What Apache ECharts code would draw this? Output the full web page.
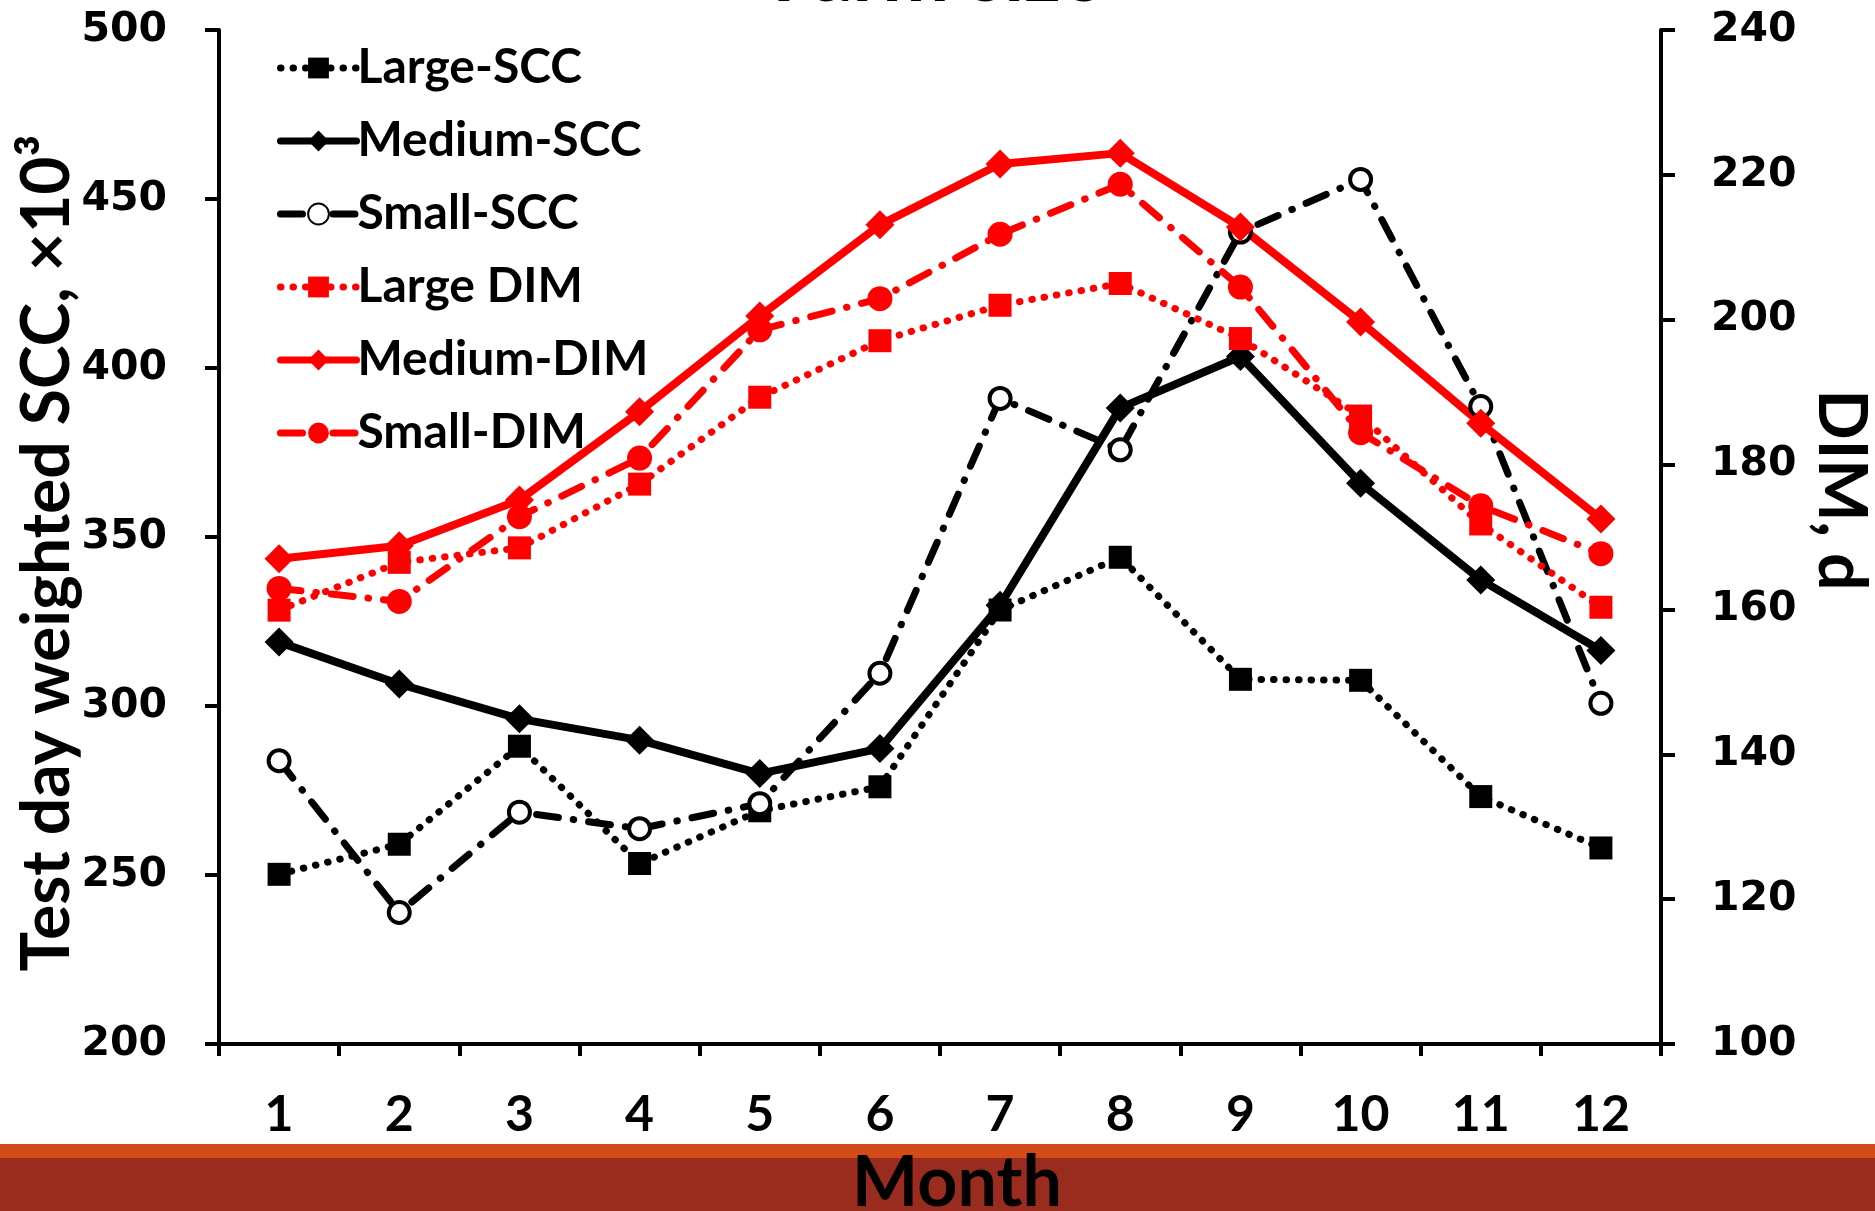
<!DOCTYPE html>
<html>
<head>
<meta charset="utf-8">
<script src="https://cdn.jsdelivr.net/npm/echarts@6/dist/echarts.min.js"></script>
<style>
  html, body { margin: 0; padding: 0; background: #fff; }
  #main { width: 1875px; height: 1211px; }
</style>
</head>
<body>
<div id="main"></div>
<script>
const months = ["1", "2", "3", "4", "5", "6", "7", "8", "9", "10", "11", "12"];
// SCC, x10^3 (left axis)
const largeScc = [250.2, 259.1, 288.1, 253.4, 269.0, 276.1, 328.4, 344.0, 307.9, 307.6, 273.2, 258.0];
const mediumScc = [318.9, 306.5, 296.2, 289.9, 280.0, 287.4, 329.8, 388.2, 403.4, 365.9, 337.3, 316.4];
const smallScc = [283.8, 238.9, 268.6, 263.7, 271.1, 309.7, 391.0, 375.8, 440.2, 455.8, 388.6, 300.8];
// DIM, d (right axis)
const largeDim = [159.9, 166.5, 168.5, 177.3, 189.3, 197.1, 202.0, 205.0, 197.4, 186.7, 171.8, 160.3];
const mediumDim = [167.0, 168.8, 175.1, 187.3, 200.5, 213.1, 221.5, 223.0, 212.8, 199.7, 185.7, 172.5];
const smallDim = [162.9, 161.1, 172.8, 180.9, 198.6, 202.9, 211.8, 218.7, 204.5, 184.4, 174.3, 167.7];

const RED = "#ff0000";
const BLACK = "#000000";
const dotted = [0.5, 12];
const dashDot = [22, 15, 0.5, 15];

function line(name, data, axis, color, type, width, symbol, size, fill) {
  return {
    name: name,
    type: "line",
    yAxisIndex: axis,
    data: data,
    symbol: symbol,
    symbolSize: size,
    showAllSymbol: true,
    lineStyle: { color: color, width: width, type: type, cap: "round" },
    itemStyle: fill
      ? { color: color, borderColor: color, borderWidth: 0 }
      : { color: "#fff", borderColor: color, borderWidth: 4 },
    emphasis: { disabled: true }
  };
}

const axisText = { fontFamily: "DejaVu Sans", fontWeight: "bold", fontSize: 41, color: BLACK };
const axisLine = { show: true, lineStyle: { color: BLACK, width: 4 } };
const axisTick = { show: true, length: 14, lineStyle: { color: BLACK, width: 4 } };
const nameFont = "bold 66px Lato";

const option = {
  animation: false,
  backgroundColor: "#fff",
  textStyle: { fontFamily: "Lato" },
  graphic: [
    { type: "text", left: "center", top: -65,
      style: { text: "Farm size", font: "bold 80px Lato", fill: BLACK } },
    { type: "text", x: 48, y: 553, rotation: Math.PI / 2,
      style: { text: "Test day weighted SCC, ×10³", font: nameFont, fill: BLACK, align: "center", verticalAlign: "middle" } },
    { type: "text", x: 1840, y: 490, rotation: -Math.PI / 2,
      style: { text: "DIM, d", font: nameFont, fill: BLACK, align: "center", verticalAlign: "middle" } },
    { type: "rect", shape: { x: 0, y: 1144, width: 1875, height: 14 },
      style: { fill: "#D34B19" }, silent: true },
    { type: "rect", shape: { x: 0, y: 1158, width: 1875, height: 53 },
      style: { fill: "#9A2C1F" }, silent: true },
    { type: "text", x: 957, y: 1148,
      style: { text: "Month", font: "bold 70px Lato", fill: BLACK, align: "center" } }
  ],
  legend: {
    orient: "vertical",
    left: 272,
    top: 35,
    itemWidth: 76,
    itemHeight: 26,
    itemGap: 17,
    lineStyle: { width: 7, cap: "round" },
    textStyle: { fontFamily: "Lato", fontWeight: "bold", fontSize: 48, color: BLACK, lineHeight: 56, padding: [0, 0, 0, -4] },
    data: ["Large-SCC", "Medium-SCC", "Small-SCC", "Large DIM", "Medium-DIM", "Small-DIM"]
  },
  grid: { left: 219, right: 214, top: 30, bottom: 167, outerBoundsMode: "none", containLabel: false },
  xAxis: {
    type: "category",
    data: months,
    boundaryGap: true,
    axisLine: axisLine,
    axisTick: Object.assign({}, axisTick, { length: 12 }),
    axisLabel: { fontFamily: "Lato", fontWeight: "bold", fontSize: 50, color: BLACK, margin: 46 },
    splitLine: { show: false }
  },
  yAxis: [
    {
      type: "value", min: 200, max: 500, interval: 50,
      axisLine: axisLine, axisTick: axisTick,
      axisLabel: Object.assign({ margin: 52 }, axisText),
      splitLine: { show: false }
    },
    {
      type: "value", min: 100, max: 240, interval: 20,
      position: "right",
      axisLine: axisLine, axisTick: axisTick,
      axisLabel: Object.assign({ margin: 50 }, axisText),
      splitLine: { show: false }
    }
  ],
  series: [
    line("Large-SCC", largeScc, 0, BLACK, dotted, 7, "rect", 23, true),
    line("Medium-SCC", mediumScc, 0, BLACK, "solid", 8, "diamond", 29, true),
    line("Small-SCC", smallScc, 0, BLACK, dashDot, 7, "circle", 21, false),
    line("Large DIM", largeDim, 1, RED, dotted, 7, "rect", 23, true),
    line("Medium-DIM", mediumDim, 1, RED, "solid", 8, "diamond", 29, true),
    line("Small-DIM", smallDim, 1, RED, dashDot, 7, "circle", 25, true)
  ]
};

const chart = echarts.init(document.getElementById("main"), null, { renderer: "canvas" });
chart.setOption(option);
window.onresize = function () { chart.resize(); };
</script>
</body>
</html>
